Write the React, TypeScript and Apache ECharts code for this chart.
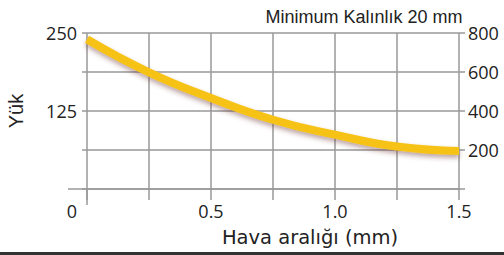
import React, { useEffect, useRef } from "react";
import * as echarts from "echarts";

const gapMm = [0, 0.25, 0.5, 0.75, 1.0, 1.25, 1.5];
const loadValues = [240, 187, 146, 111, 87, 68, 61];
const leftTickLabels = ["125", "250"];
const rightTickLabels = ["200", "400", "600", "800"];
const xTickLabels = ["0", "0.5", "1.0", "1.5"];

export default function App() {
  const ref = useRef<HTMLDivElement>(null);
  useEffect(() => {
    const chart = echarts.init(ref.current!, null, { renderer: "svg" });
    const tickFont = { fontFamily: "Open Sans", fontSize: 18, color: "#222" };
    const gridLine = { lineStyle: { color: "#999", width: 1.5 } };
    chart.setOption({
      animation: false,
      backgroundColor: "#fff",
      title: {
        text: "Minimum Kalınlık 20 mm",
        left: 359,
        top: 3,
        textAlign: "center",
        textStyle: { fontFamily: "Liberation Sans", fontSize: 18, fontWeight: "normal", color: "#222" },
      },
      grid: { left: 87, right: 45, top: 33, bottom: 66, containLabel: false, outerBoundsMode: "none" },
      xAxis: {
        type: "value",
        min: 0,
        max: 1.5,
        interval: 0.25,
        name: "Hava aralığı (mm)",
        nameLocation: "middle",
        nameGap: 38,
        nameTextStyle: { fontFamily: "DejaVu Sans", fontSize: 19.5, color: "#222", padding: [0, 0, 0, 74] },
        axisLine: { show: true, lineStyle: { color: "#999", width: 1.5 } },
        axisTick: { show: true, length: 11, lineStyle: { color: "#999", width: 1.5 } },
        splitLine: { show: true, ...gridLine },
        axisLabel: {
          ...tickFont,
          margin: 13,
          formatter: (v: number) => {
            if (Math.abs(v * 2 - Math.round(v * 2)) > 1e-6) return "";
            const label = v === 0 ? "0" : v.toFixed(1);
            if (!xTickLabels.includes(label)) return "";
            return v === 0 ? "{z|0}" : label;
          },
          rich: { z: { ...tickFont, padding: [0, 30, 0, 0] } },
        },
      },
      yAxis: [
        {
          type: "value",
          min: 0,
          max: 250,
          interval: 62.5,
          name: "Yük",
          nameLocation: "middle",
          nameGap: 61,
          nameRotate: 90,
          nameTextStyle: { fontFamily: "Liberation Sans", fontSize: 20, color: "#222" },
          axisLine: { show: false },
          axisTick: { show: true, length: 5, lineStyle: { color: "#999", width: 1.5 } },
          splitLine: { show: true, ...gridLine },
          axisLabel: {
            ...tickFont,
            margin: 10,
            formatter: (v: number) => (leftTickLabels.includes(String(v)) ? String(v) : ""),
          },
        },
        {
          type: "value",
          min: 0,
          max: 800,
          interval: 200,
          position: "right",
          axisLine: { show: false },
          axisTick: { show: true, length: 6, lineStyle: { color: "#999", width: 1.5 } },
          splitLine: { show: false },
          axisLabel: {
            ...tickFont,
            margin: 9,
            formatter: (v: number) => (rightTickLabels.includes(String(v)) ? String(v) : ""),
          },
        },
      ],
      graphic: [
        { type: "line", shape: { x1: 68, y1: 189, x2: 87, y2: 189 }, style: { stroke: "#999", lineWidth: 1.5 } },
        { type: "line", shape: { x1: 87, y1: 189, x2: 87, y2: 205 }, style: { stroke: "#999", lineWidth: 1.5 } },
        { type: "rect", shape: { x: 0, y: 252, width: 504, height: 3 }, style: { fill: "#333" } },
      ],
      series: [
        {
          type: "line",
          yAxisIndex: 0,
          smooth: true,
          symbol: "none",
          data: gapMm.map((x, i) => [x, loadValues[i]]),
          lineStyle: {
            color: "#f7c213",
            width: 8,
            shadowColor: "rgba(110,50,50,0.45)",
            shadowBlur: 5,
            shadowOffsetY: 3,
          },
        },
      ],
    });
    return () => chart.dispose();
  }, []);
  return <div ref={ref} style={{ position: "fixed", left: 0, top: 0, width: 504, height: 255 }} />;
}
